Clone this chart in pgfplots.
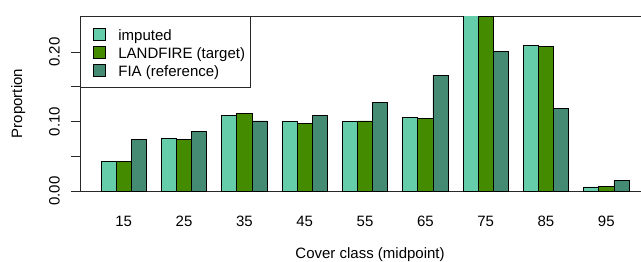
\documentclass[border=0pt]{standalone}
\usepackage{pgfplots}
\pgfplotsset{compat=1.18}
\usepackage{pgfplotstable}
\usepackage{fontspec}
\setmainfont{Liberation Sans}
\definecolor{cimp}{RGB}{102,205,170}
\definecolor{clf}{RGB}{69,139,0}
\definecolor{cfia}{RGB}{69,139,116}
\definecolor{axgray}{RGB}{40,40,40}
\pgfplotstableread{
class imp lf fia
15 0.042 0.042 0.074
25 0.076 0.0745 0.086
35 0.1085 0.112 0.101
45 0.100 0.0975 0.1085
55 0.100 0.101 0.127
65 0.1056 0.1047 0.167
75 0.254 0.251 0.2007
85 0.2094 0.208 0.119
95 0.0058 0.006 0.0149
}\datatable
\begin{document}
\begin{tikzpicture}
\useasboundingbox (-80bp,-71bp) rectangle (561bp,191bp);
\begin{axis}[
  at={(0,0)}, anchor=south west,
  scale only axis, width=561bp, height=175bp,
  xmin=-0.4, xmax=36.8, ymin=0, ymax=0.252, enlargelimits=false,
  axis x line*=box, axis y line*=left,
  axis line style={-, line width=0.8bp, color=axgray},
  ybar, bar width=1,
  font=\fontsize{15bp}{18bp}\selectfont,
  xtick={2.5,6.5,10.5,14.5,18.5,22.5,26.5,30.5,34.5},
  xticklabels={15,25,35,45,55,65,75,85,95},
  xtick style={draw=none},
  xticklabel style={anchor=center, yshift=-21bp, inner sep=0pt},
  ytick={0,0.05,0.10,0.15,0.20},
  yticklabels={0.00,,0.10,,0.20},
  ytick pos=left,
  tick align=outside,
  major tick length=9bp,
  ytick style={line width=0.8bp, color=axgray},
  yticklabel style={rotate=90, anchor=center, inner sep=0pt},
  yticklabel shift=16.5bp,
  xlabel={Cover class (midpoint)},
  ylabel={Proportion},
  xlabel style={at={(axis description cs:0.517,0)}, anchor=base, yshift=-67.3bp, inner sep=0pt},
  ylabel style={at={(axis description cs:-0.11,0.5)}, anchor=center, inner sep=0pt},
  legend image code/.code={\path (0bp,0bp); \draw[#1, bar shift=0pt] (7.5bp,-6bp) rectangle (19.5bp,6bp);},
  legend style={at={(axis description cs:0,1)}, anchor=north west,
    draw=axgray, line width=0.8bp, inner xsep=5.5bp, inner ysep=8.65bp,
    font=\fontsize{15bp}{18bp}\selectfont,
    nodes={inner sep=0pt, text height=15.35bp, text depth=2.65bp},
    row sep=0pt,
    /tikz/every odd column/.append style={column sep=12.3bp}},
  legend cell align=left,
]
\addplot[fill=cimp, draw=black, line width=0.7bp, bar shift=0pt] table[x expr=4*\coordindex+1.5, y=imp] {\datatable};
\addplot[fill=clf, draw=black, line width=0.7bp, bar shift=0pt] table[x expr=4*\coordindex+2.5, y=lf] {\datatable};
\addplot[fill=cfia, draw=black, line width=0.7bp, bar shift=0pt] table[x expr=4*\coordindex+3.5, y=fia] {\datatable};
\legend{imputed, LANDFIRE (target), FIA (reference)}
\end{axis}
\end{tikzpicture}
\end{document}
